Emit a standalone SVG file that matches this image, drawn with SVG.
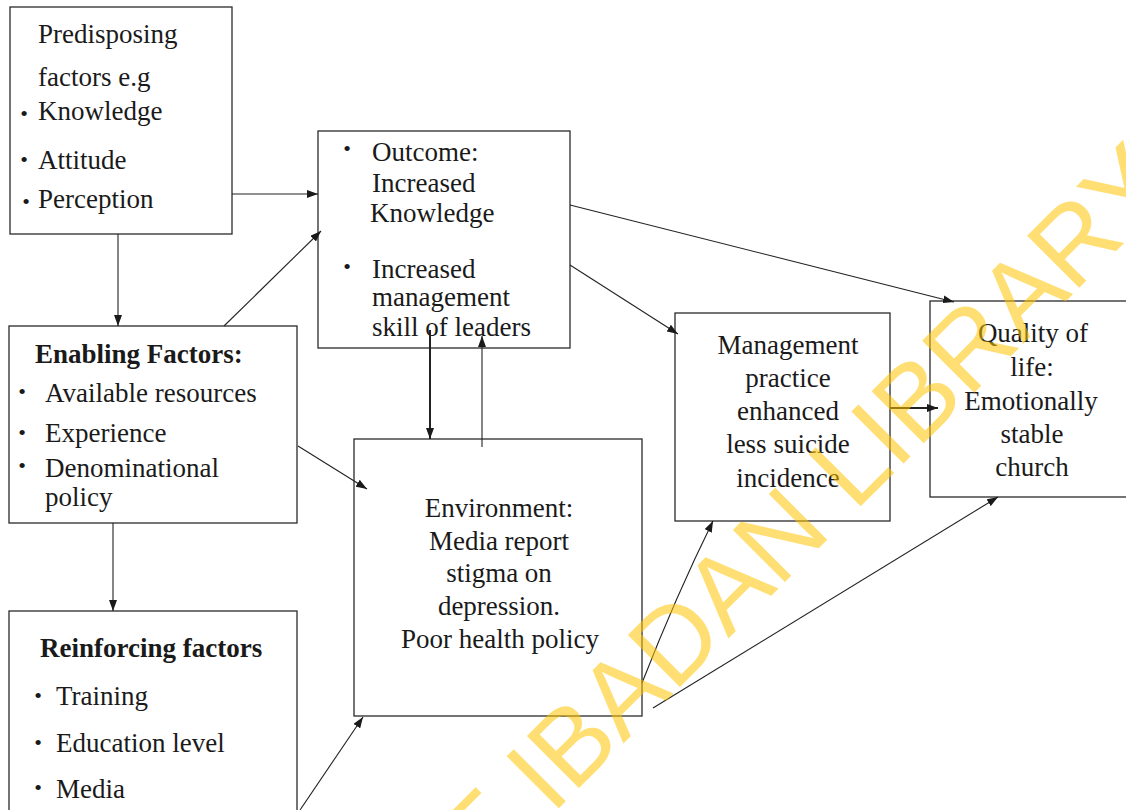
<svg xmlns="http://www.w3.org/2000/svg" width="1126" height="810" viewBox="0 0 1126 810">
<style>
.box{fill:#fff;stroke:#2a2a2a;stroke-width:1.3}
.t{font-family:"Liberation Serif","Times New Roman",serif;font-size:27px;fill:#1a1a1a}
.b{font-weight:bold}
.c{text-anchor:middle}
.bul{font-family:"Liberation Serif","Times New Roman",serif;font-size:22px;fill:#1a1a1a;text-anchor:middle}
.ln{fill:none;stroke:#222;stroke-width:1.1;marker-end:url(#ah)}
.thick{stroke-width:2}
.wm{font-family:"Liberation Sans",Arial,sans-serif;font-size:107px;fill:#FFC400;fill-opacity:0.55}
</style>
<defs>
<marker id="ah" markerUnits="userSpaceOnUse" markerWidth="11" markerHeight="8" refX="11" refY="4" orient="auto">
<path d="M0,0 L11,4 L0,8 z" fill="#1a1a1a"/>
</marker>
</defs>
<rect width="1126" height="810" fill="#fff"/>

<g id="predisposing">
<rect class="box" x="10" y="7" width="222" height="227"/>
<text class="t" x="38" y="43">Predisposing</text>
<text class="t" x="38" y="86">factors e.g</text>
<text class="bul" x="24" y="121">•</text>
<text class="t" x="38" y="120">Knowledge</text>
<text class="bul" x="24" y="167">•</text>
<text class="t" x="38" y="169">Attitude</text>
<text class="bul" x="26" y="209">•</text>
<text class="t" x="38" y="208">Perception</text>
</g>

<g id="outcome">
<rect class="box" x="318" y="131" width="252" height="217"/>
<text class="bul" x="347" y="156">•</text>
<text class="t" x="372" y="161">Outcome:</text>
<text class="t" x="372" y="192">Increased</text>
<text class="t" x="370" y="222">Knowledge</text>
<text class="bul" x="347" y="274">•</text>
<text class="t" x="372" y="278">Increased</text>
<text class="t" x="372" y="306">management</text>
<text class="t" x="372" y="336">skill of leaders</text>
</g>

<g id="enabling">
<rect class="box" x="9" y="326" width="288" height="197"/>
<text class="t b" x="35" y="363">Enabling Factors:</text>
<text class="bul" x="22" y="399">•</text>
<text class="t" x="45" y="402">Available resources</text>
<text class="bul" x="22" y="440">•</text>
<text class="t" x="45" y="442">Experience</text>
<text class="bul" x="22" y="473">•</text>
<text class="t" x="45" y="477">Denominational</text>
<text class="t" x="45" y="506">policy</text>
</g>

<g id="reinforcing">
<rect class="box" x="9" y="611" width="288" height="212"/>
<text class="t b" x="40" y="657">Reinforcing factors</text>
<text class="bul" x="38" y="703">•</text>
<text class="t" x="56" y="705">Training</text>
<text class="bul" x="38" y="750">•</text>
<text class="t" x="56" y="752">Education level</text>
<text class="bul" x="38" y="795">•</text>
<text class="t" x="56" y="798">Media</text>
</g>

<g id="environment">
<rect class="box" x="354" y="439" width="288" height="277"/>
<text class="t c" x="499" y="517">Environment:</text>
<text class="t c" x="499" y="550">Media report</text>
<text class="t c" x="499" y="582">stigma on</text>
<text class="t c" x="499" y="615">depression.</text>
<text class="t c" x="500" y="648">Poor health policy</text>
</g>

<g id="management">
<rect class="box" x="675" y="313" width="215" height="208"/>
<text class="t c" x="788" y="354">Management</text>
<text class="t c" x="788" y="387">practice</text>
<text class="t c" x="788" y="420">enhanced</text>
<text class="t c" x="788" y="453">less suicide</text>
<text class="t c" x="788" y="487">incidence</text>
</g>

<g id="quality">
<rect class="box" x="930" y="301" width="210" height="196"/>
<text class="t c" x="1033" y="342">Quality of</text>
<text class="t c" x="1032" y="376">life:</text>
<text class="t c" x="1031" y="410">Emotionally</text>
<text class="t c" x="1032" y="443">stable</text>
<text class="t c" x="1032" y="476">church</text>
</g>

<g id="connectors">
<path class="ln" d="M232,194 H318"/>
<path class="ln" d="M118,234 V326"/>
<path class="ln" d="M113,523 V611"/>
<path class="ln" d="M224,326 L321,231"/>
<path class="ln thick" d="M430,330 V439"/>
<path class="ln" d="M482,447 V336"/>
<path class="ln" d="M298,446 L367,489"/>
<path class="ln" d="M300,810 L363,717"/>
<path class="ln" d="M570,205 L954,302"/>
<path class="ln" d="M570,265 L678,334"/>
<path class="ln thick" d="M890,408 H938"/>
<path class="ln" d="M642,683 Q676,596 713,521"/>
<path class="ln" d="M653,708 L998,497"/>
</g>

<g id="watermark">
<text class="wm" transform="translate(551.5,815.5) rotate(-45)" x="-178">OF IBADAN LIBRARY</text>
</g>
</svg>
